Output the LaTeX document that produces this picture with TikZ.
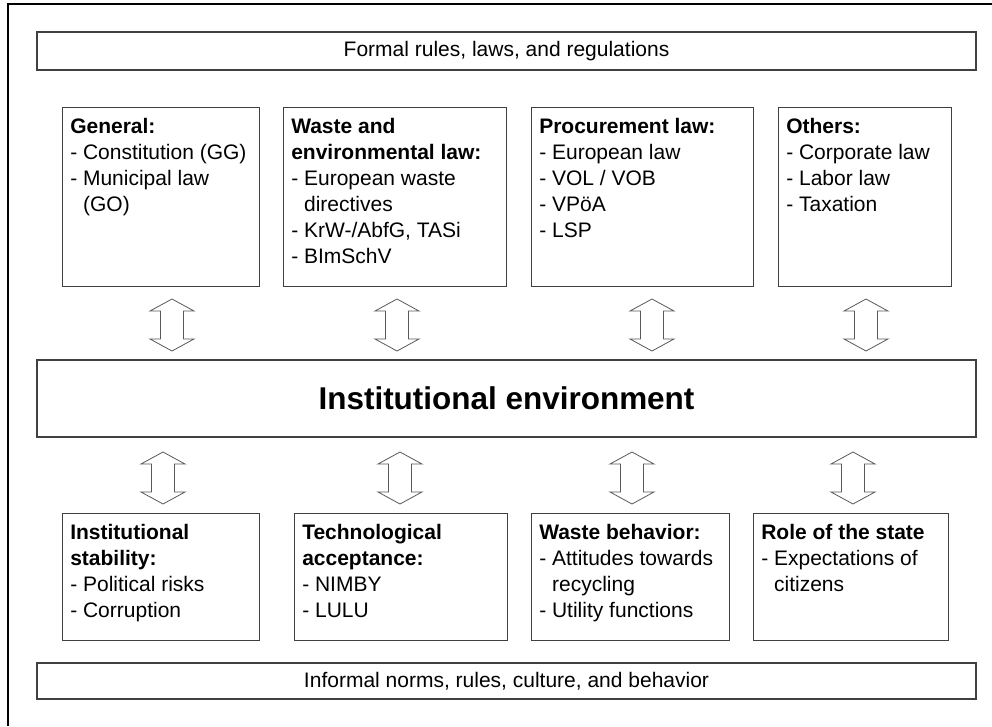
\documentclass[tikz,border=0pt]{standalone}
\usepackage{fontspec}
\setmainfont{Liberation Sans}
\usetikzlibrary{positioning}
\newcommand{\hng}{\phantom{- }}
\def\pxu{0.75}

\tikzset{
  banner/.style={draw=black!75,line width=1.1pt,inner sep=0pt,
    minimum width=939*\pxu pt,font=\fontsize{15.75}{19.5}\selectfont},
  catbox/.style={draw=black!75,line width=1.1pt,inner sep=0pt,anchor=north west},
  cattext/.style={anchor=north west,align=left,inner xsep=6pt,inner ysep=8.5pt,
    font=\fontsize{15.75}{19.5}\selectfont},
  updown/.style={draw=black!65,line width=0.6pt,fill=white}
}

\begin{document}
\begin{tikzpicture}[x=0.75pt,y=-0.75pt]
  \useasboundingbox (0,0) rectangle (992,726);
  % outer frame (only left and top edges visible)
  \draw[line width=1.6pt] (8,726) -- (8,4) -- (992,4);

  % banners
  \node[banner,minimum height=38*\pxu pt] (formal) at (506.5,51) {Formal rules, laws, and regulations};
  \node[banner,minimum height=77*\pxu pt,font=\fontsize{23.6}{28}\selectfont\bfseries] (env) at (506.5,398.5) {Institutional environment};
  \node[banner,minimum height=36*\pxu pt] (informal) at (506.5,681) {Informal norms, rules, culture, and behavior};

  % formal categories
  \foreach \nm/\x/\w in {gen/62/197, waste/283/223, proc/531/222, oth/778/173} {
    \node[catbox,minimum width=\w*\pxu pt,minimum height=179*\pxu pt] (\nm) at (\x,107) {};
  }
  \node[cattext] at (gen.north west) {\textbf{General:}\\- Constitution (GG)\\- Municipal law\\\hng(GO)};
  \node[cattext] at (waste.north west) {\textbf{Waste and}\\\textbf{environmental law:}\\- European waste\\\hng directives\\- KrW-/AbfG, TASi\\- BImSchV};
  \node[cattext] at (proc.north west) {\textbf{Procurement law:}\\- European law\\- VOL / VOB\\- VPöA\\- LSP};
  \node[cattext] at (oth.north west) {\textbf{Others:}\\- Corporate law\\- Labor law\\- Taxation};

  % informal categories
  \foreach \nm/\x/\w in {stab/62/197, tech/294/213, behav/531/198, state/753/195} {
    \node[catbox,minimum width=\w*\pxu pt,minimum height=127*\pxu pt] (\nm) at (\x,513) {};
  }
  \node[cattext] at (stab.north west) {\textbf{Institutional}\\\textbf{stability:}\\- Political risks\\- Corruption};
  \node[cattext] at (tech.north west) {\textbf{Technological}\\\textbf{acceptance:}\\- NIMBY\\- LULU};
  \node[cattext] at (behav.north west) {\textbf{Waste behavior:}\\- Attitudes towards\\\hng recycling\\- Utility functions};
  \node[cattext] at (state.north west) {\textbf{Role of the state}\\- Expectations of\\\hng citizens};

  % two-way arrows
  \foreach \ax/\ay in {172/299, 397/299, 652/299, 866/299, 163/452, 400/452, 632/452, 853/452} {
    \draw[updown] (\ax,\ay) -- (\ax+22,\ay+12) -- (\ax+11.5,\ay+12) -- (\ax+11.5,\ay+40)
      -- (\ax+22,\ay+40) -- (\ax,\ay+52) -- (\ax-22,\ay+40) -- (\ax-11.5,\ay+40)
      -- (\ax-11.5,\ay+12) -- (\ax-22,\ay+12) -- cycle;
  }
\end{tikzpicture}
\end{document}
